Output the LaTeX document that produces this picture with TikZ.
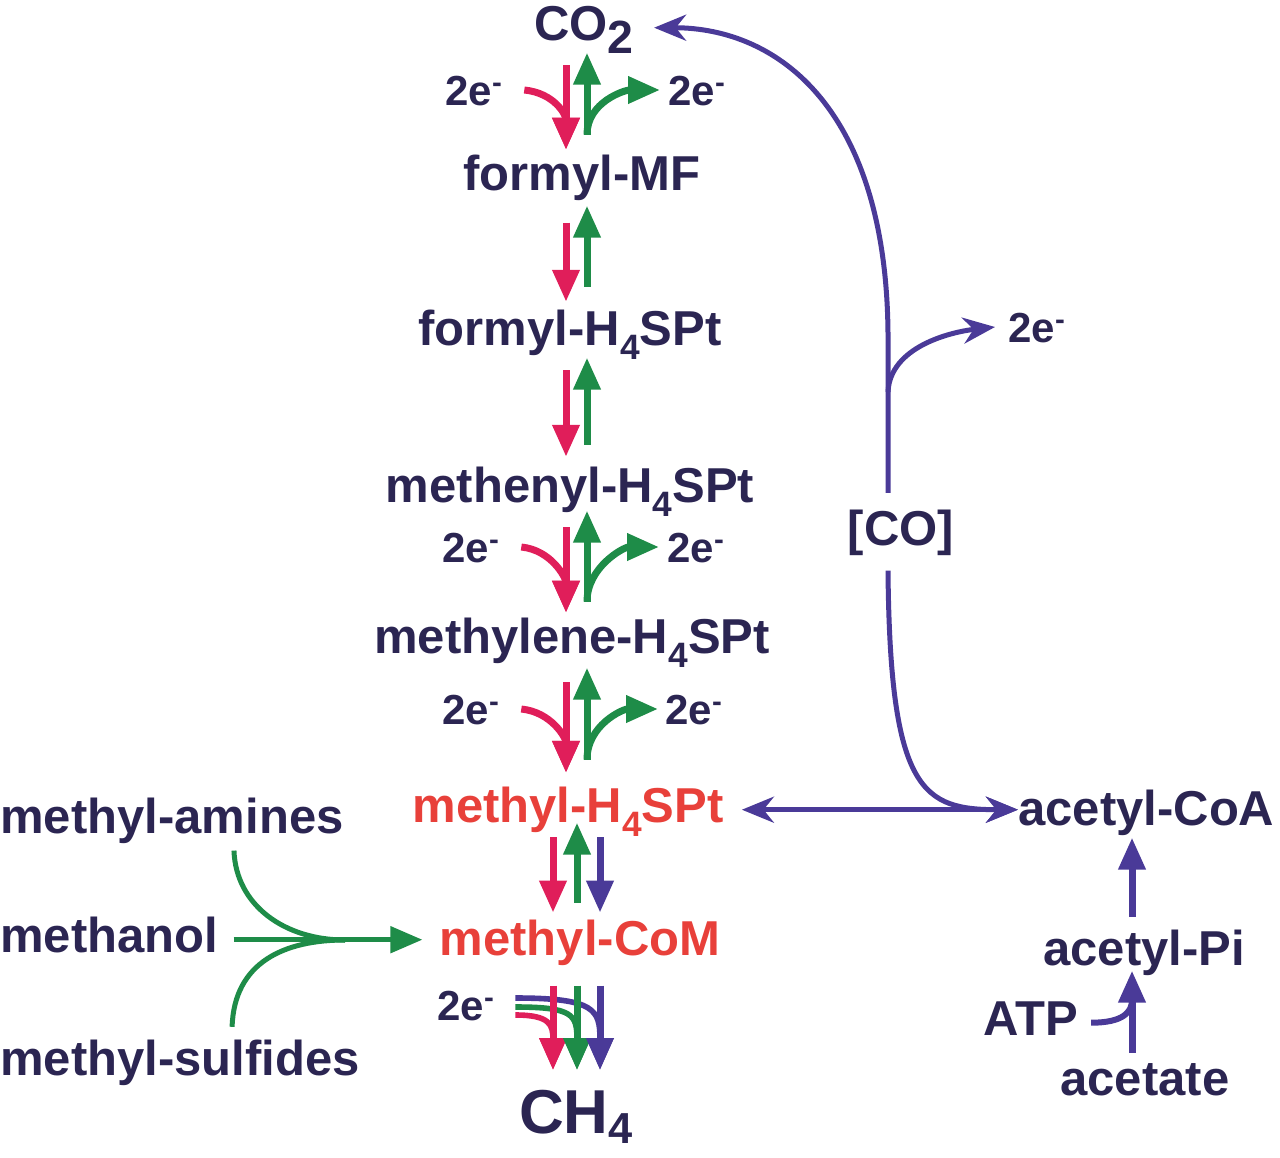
\documentclass[tikz,border=0pt]{standalone}
\usepackage{fontspec}
\setmainfont{Liberation Sans}
\usepackage{graphicx}
\usetikzlibrary{positioning,arrows.meta,calc}
\definecolor{cInk}{HTML}{2B2552}
\definecolor{cPur}{HTML}{4A3A98}
\definecolor{cRed}{HTML}{E01E5A}
\definecolor{cGrn}{HTML}{1E8C48}
\definecolor{cHot}{HTML}{E8403A}
\newcommand{\sbs}[3][0.3em]{\raisebox{-#1}{\scalebox{#2}{#3}}}
\newcommand{\twoe}{2e\raisebox{0.3em}{\scalebox{0.7}{-}}}
\tikzset{
  cmp/.style={font=\fontsize{24.5}{28}\selectfont\bfseries,text=cInk,inner sep=0pt,text height=18.4pt,text depth=6.1pt,anchor=base},
  hot/.style={cmp,text=cHot},
  elab/.style={font=\fontsize{21}{24}\selectfont\bfseries,text=cInk,inner sep=0pt,text height=15pt,text depth=0pt,anchor=base west},
  ttip/.tip={Triangle[length=16pt,width=13pt]},
  ptip/.tip={Stealth[length=16pt,width=13pt]},
  shaft/.style={line width=3.5pt,-ttip},
  rarr/.style={shaft,draw=cRed}, garr/.style={shaft,draw=cGrn}, parr/.style={shaft,draw=cPur},
  pcurve/.style={line width=2.5pt,draw=cPur,-ptip},
  gcurve/.style={line width=2.5pt,draw=cGrn},
  thin/.style={line width=2.8pt}}

\begin{document}
\begin{tikzpicture}[x=0.5pt,y=-0.5pt]
\useasboundingbox (0,0) rectangle (1280,1157);
% columns of the arrows
\coordinate (rx) at (566,0); \coordinate (gx) at (587,0);
\coordinate (rb) at (553,0); \coordinate (gb) at (577,0); \coordinate (pb) at (600,0);
\coordinate (vx) at (888,0); \coordinate (ax) at (1132,0);
% main chain
\node[cmp] (co2) at (584,40) {CO\sbs[0.28em]{0.95}{2}};
\node[cmp] (fmf) at (582,190) {formyl-MF};
\node[cmp] (fh4) at (570,345) {formyl-H\sbs{0.72}{4}SPt};
\node[cmp] (meh4) at (570,502) {methenyl-H\sbs{0.72}{4}SPt};
\node[cmp] (mlh4) at (572,653) {methylene-H\sbs{0.72}{4}SPt};
\node[hot] (mh4) at (568,822) {methyl-H\sbs{0.72}{4}SPt};
\node[hot] (mcom) at (580,955) {methyl-CoM};
\node[cmp,font=\fontsize{31}{36}\selectfont\bfseries,text height=23.3pt,text depth=7.7pt] (ch4) at (576,1133) {CH\sbs[0.17em]{0.7}{4}};
% side nodes
\node[cmp,anchor=base west] (mam) at (0,833) {methyl-amines};
\node[cmp,anchor=base west] (mol) at (0,952) {methanol};
\node[cmp,anchor=base west] (msu) at (0,1075) {methyl-sulfides};
\node[cmp,anchor=base west] (acoa) at (1018,825) {acetyl-CoA};
\node[cmp,anchor=base west] (api) at (1043,965) {acetyl-Pi};
\node[cmp,anchor=base west] (atp) at (983,1035) {ATP};
\node[cmp,anchor=base west] (act) at (1060,1095) {acetate};
\node[cmp] (co) at (901,545) {[CO]};
% electron labels
\node[elab] (eAl) at (445,105) {\twoe};
\node[elab] (eAr) at (668,105) {\twoe};
\node[elab] (eBl) at (442,562) {\twoe};
\node[elab] (eBr) at (667,562) {\twoe};
\node[elab] (eCl) at (442,724) {\twoe};
\node[elab] (eCr) at (665,724) {\twoe};
\node[elab] (eD) at (437,1020) {\twoe};
\node[elab] (eE) at (1008,342) {\twoe};

% CO2 -- formyl-MF
\draw[rarr,shorten <=6.4pt,shorten >=1.6pt] (co2.south -| rx) -- (fmf.north -| rx);
\draw[rarr] ($(eAl.east)+(22,0)$) .. controls +(30,3) and +(0,-35) .. ($(fmf.north -| rx)+(0,-3)$);
\draw[garr,shorten <=9pt] (fmf.north -| gx) -- (co2.south -| gx);
\draw[garr] ($(fmf.north -| gx)+(0,-18)$) .. controls +(0,-33) and +(-35,0) .. ($(eAr.west)+(-8,0)$);
% formyl-MF -- formyl-H4SPt
\draw[rarr,shorten <=10pt,shorten >=3pt] (fmf.south -| rx) -- (fh4.north -| rx);
\draw[garr,shorten <=10.5pt,shorten >=1.5pt] (fh4.north -| gx) -- (fmf.south -| gx);
% formyl-H4SPt -- methenyl-H4SPt
\draw[rarr,shorten <=6.4pt,shorten >=4pt] (fh4.south -| rx) -- (meh4.north -| rx);
\draw[garr,shorten <=10pt] (meh4.north -| gx) -- (fh4.south -| gx);
% methenyl-H4SPt -- methylene-H4SPt
\draw[rarr,shorten <=6.4pt,shorten >=1.6pt] (meh4.south -| rx) -- (mlh4.north -| rx);
\draw[rarr] ($(eBl.east)+(22,0)$) .. controls +(30,3) and +(0,-35) .. ($(mlh4.north -| rx)+(0,-3)$);
\draw[garr,shorten <=7pt,shorten >=-2pt] (mlh4.north -| gx) -- (meh4.south -| gx);
\draw[garr] ($(mlh4.north -| gx)+(0,-14)$) .. controls +(0,-35) and +(-35,0) .. ($(eBr.west)+(-8,0)$);
% methylene-H4SPt -- methyl-H4SPt
\draw[rarr,shorten <=8.4pt,shorten >=6pt] (mlh4.south -| rx) -- (mh4.north -| rx);
\draw[rarr] ($(eCl.east)+(22,0)$) .. controls +(30,3) and +(0,-35) .. ($(mh4.north -| rx)+(0,-12)$);
\draw[garr,shorten <=12.6pt,shorten >=1pt] (mh4.north -| gx) -- (mlh4.south -| gx);
\draw[garr] ($(mh4.north -| gx)+(0,-25)$) .. controls +(0,-35) and +(-35,0) .. ($(eCr.west)+(-7,0)$);
% methyl-H4SPt -- methyl-CoM
\draw[rarr,shorten <=1.4pt,shorten >=2.6pt] (mh4.south -| rb) -- (mcom.north -| rb);
\draw[garr,shorten <=7.6pt,shorten >=-6pt] (mcom.north -| gb) -- (mh4.south -| gb);
\draw[parr,shorten <=1.4pt,shorten >=2.6pt] (mh4.south -| pb) -- (mcom.north -| pb);
% methyl-CoM -- CH4
\draw[rarr,thin] ($(eD.east)+(21,10)$) .. controls +(35,0) and +(0,-45) .. ($(ch4.north -| rb)+(0,-16)$);
\draw[garr,thin] ($(eD.east)+(21,2)$) .. controls +(58,0) and +(0,-55) .. ($(ch4.north -| gb)+(0,-16)$);
\draw[parr,thin] ($(eD.east)+(21,-7)$) .. controls +(80,0) and +(0,-60) .. ($(ch4.north -| pb)+(0,-16)$);
\foreach \c/\col in {rb/cRed,gb/cGrn,pb/cPur}
  \draw[shaft,draw=\col,shorten <=9pt,shorten >=8pt] (mcom.south -| \c) -- (ch4.north -| \c);

% methylotrophic substrates
\coordinate (jn) at (345,940);
\draw[garr,line width=2.5pt,shorten <=7.5pt,shorten >=8.5pt] (mol.east) -- (mol.east -| mcom.west);
\draw[gcurve] ($(mam.south)+(62,5)$) .. controls +(2,55) and +(-60,0) .. (jn);
\draw[gcurve] ($(msu.north)+(52,-11)$) .. controls +(2,-65) and +(-60,0) .. (jn);

% carbon monoxide branch
\coordinate (brk) at (888,392);
\draw[pcurve] ($(co.north -| vx)+(0,-15)$) -- +(0,-160) .. controls +(-2,-223) and +(125,0) .. ($(co2.east)+(20,0)$);
\draw[pcurve] (brk) .. controls +(2,-45) and +(-45,5) .. ($(eE.west)+(-13,0)$);
\draw[pcurve] ($(co.south -| vx)+(0,13)$) .. controls +(2,222) and +(-95,0) .. (mh4.east -| acoa.west);
\draw[pcurve,ptip-ptip] ($(mh4.east)+(18,0)$) -- (mh4.east -| acoa.west);

% acetate activation
\draw[parr,shorten <=5.5pt] (api.north -| ax) -- (acoa.south -| ax);
\draw[parr,shorten <=2.5pt,shorten >=-3.5pt] (act.north -| ax) -- (api.south -| ax);
\coordinate (atpj) at (1132,1000);
\draw[cPur,line width=3pt] ($(atp.east)+(13,0)$) .. controls +(32,0) and +(0,12) .. (atpj);
\end{tikzpicture}
\end{document}
